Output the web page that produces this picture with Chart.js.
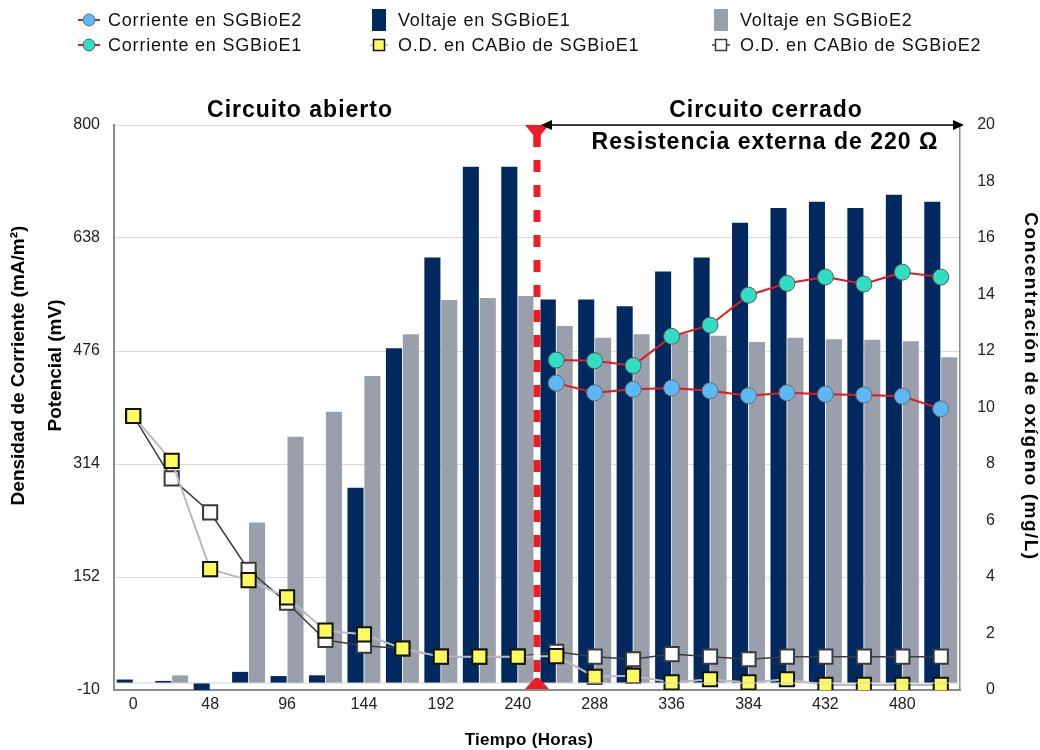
<!DOCTYPE html>
<html lang="es">
<head>
<meta charset="UTF-8">
<title>SGBioE - Voltaje, corriente y O.D.</title>
<script src="https://cdn.jsdelivr.net/npm/chart.js"></script>
<style>
  html, body { margin: 0; padding: 0; background: #fff; }
  #grafico { display: block; }
</style>
</head>
<body>
<canvas id="grafico" width="1040" height="750"></canvas>
<script>
// datos
const horas = [0, 24, 48, 72, 96, 120, 144, 168, 192, 216, 240, 264, 288, 312, 336, 360, 384, 408, 432, 456, 480, 504];
const voltajeE1 = [5, 3, -10, 16, 10, 11, 280, 480, 610, 740, 740, 550, 550, 540, 590, 610, 660, 681, 690, 681, 700, 690];
const voltajeE2 = [0, 11, 0, 230, 353, 389, 440, 500, 549, 552, 555, 512, 495, 500, 501, 498, 489, 495, 493, 492, 490, 467];
const corrienteE2 = [null, null, null, null, null, null, null, null, null, null, null, 430, 416, 421, 423, 419, 412, 416, 414, 413, 411, 393];
const corrienteE1 = [null, null, null, null, null, null, null, null, null, null, null, 463, 462, 455, 497, 513, 556, 573, 582, 572, 589, 582];
const odE1 = [9.7, 8.11, 4.28, 3.89, 3.28, 2.1, 1.97, 1.47, 1.18, 1.18, 1.18, 1.2, 0.47, 0.5, 0.27, 0.38, 0.27, 0.38, 0.18, 0.18, 0.18, 0.18];
const odE2 = [9.7, 7.49, 6.29, 4.25, 3.09, 1.77, 1.57, 1.47, 1.18, 1.18, 1.18, 1.35, 1.18, 1.09, 1.27, 1.18, 1.09, 1.18, 1.18, 1.18, 1.18, 1.18];
const ticksIzq = [-10, 152, 314, 476, 638, 800];
const ticksDer = [0, 2, 4, 6, 8, 10, 12, 14, 16, 18, 20];

const FUENTE = "'Liberation Sans', Arial, Helvetica, sans-serif";
Chart.defaults.font.family = FUENTE;
Chart.defaults.color = '#222';

const rojo = '#e8161e';

// leyenda en tres columnas, dibujada a mano
const leyenda = [
  { ds: 2, x: 89, y: 20 },
  { ds: 3, x: 89, y: 45 },
  { ds: 0, x: 379, y: 20 },
  { ds: 4, x: 379, y: 45 },
  { ds: 1, x: 721, y: 20 },
  { ds: 5, x: 721, y: 45 }
];

function texto(ctx, t, x, y, font, spacing) {
  ctx.font = font;
  ctx.letterSpacing = spacing + 'px';
  ctx.fillText(t, x, y);
  ctx.letterSpacing = '0px';
}

const pluginLeyenda = {
  id: 'leyendaPropia',
  afterDraw(chart) {
    const ctx = chart.ctx;
    ctx.save();
    leyenda.forEach(item => {
      const d = chart.data.datasets[item.ds];
      if (d.type === 'bar') {
        ctx.fillStyle = d.backgroundColor;
        ctx.fillRect(item.x - 7, item.y - 11, 14, 22);
      } else if (d.pointStyle === 'circle') {
        ctx.strokeStyle = d.borderColor;
        ctx.lineWidth = 2;
        ctx.beginPath();
        ctx.moveTo(item.x - 11, item.y);
        ctx.lineTo(item.x + 11, item.y);
        ctx.stroke();
        ctx.beginPath();
        ctx.arc(item.x, item.y, 6, 0, Math.PI * 2);
        ctx.fillStyle = d.pointBackgroundColor;
        ctx.fill();
        ctx.lineWidth = 1;
        ctx.strokeStyle = d.pointBorderColor;
        ctx.stroke();
      } else {
        ctx.strokeStyle = d.borderColor;
        ctx.lineWidth = 1.5;
        ctx.beginPath();
        ctx.moveTo(item.x - 9, item.y);
        ctx.lineTo(item.x + 9, item.y);
        ctx.stroke();
        ctx.fillStyle = d.pointBackgroundColor;
        ctx.fillRect(item.x - 5.5, item.y - 5.5, 11, 11);
        ctx.lineWidth = 1.5;
        ctx.strokeStyle = d.pointBorderColor;
        ctx.strokeRect(item.x - 5.5, item.y - 5.5, 11, 11);
      }
      ctx.fillStyle = '#111';
      ctx.textAlign = 'left';
      ctx.textBaseline = 'middle';
      texto(ctx, d.label, item.x + 19, item.y + 1, '18px ' + FUENTE, 0.8);
    });
    ctx.restore();
  }
};

// linea de cambio de circuito, flecha y textos
const pluginAnotaciones = {
  id: 'anotaciones',
  afterDatasetsDraw(chart) {
    const ctx = chart.ctx;
    const xs = chart.scales.x;
    const ys = chart.scales.y;
    const area = chart.chartArea;
    const iCambio = corrienteE1.findIndex(v => v !== null);
    const xc = (xs.getPixelForValue(iCambio - 1) + xs.getPixelForValue(iCambio)) / 2;

    ctx.save();
    // linea base en cero
    ctx.strokeStyle = '#d4d4d4';
    ctx.lineWidth = 1;
    ctx.beginPath();
    ctx.moveTo(area.left, ys.getPixelForValue(0));
    ctx.lineTo(area.right, ys.getPixelForValue(0));
    ctx.stroke();

    // linea discontinua roja con fondo blanco
    ctx.lineWidth = 7;
    ctx.strokeStyle = '#fff';
    ctx.beginPath();
    ctx.moveTo(xc, area.top + 20);
    ctx.lineTo(xc, area.bottom - 4);
    ctx.stroke();
    ctx.strokeStyle = '#ee1c25';
    ctx.setLineDash([12, 13]);
    ctx.beginPath();
    ctx.moveTo(xc, area.top + 10);
    ctx.lineTo(xc, area.bottom - 4);
    ctx.stroke();
    ctx.setLineDash([]);
    ctx.fillStyle = '#ee1c25';
    ctx.fillRect(xc - 3.5, area.top, 7, 22);
    ctx.beginPath();
    ctx.moveTo(xc - 12, area.top);
    ctx.lineTo(xc + 12, area.top);
    ctx.lineTo(xc + 2, area.top + 12);
    ctx.lineTo(xc - 2, area.top + 12);
    ctx.closePath();
    ctx.fill();
    ctx.beginPath();
    ctx.moveTo(xc - 12, area.bottom - 1);
    ctx.lineTo(xc + 12, area.bottom - 1);
    ctx.lineTo(xc + 2, area.bottom - 12);
    ctx.lineTo(xc - 2, area.bottom - 12);
    ctx.closePath();
    ctx.fill();

    // flecha doble
    const ya = area.top;
    const x1 = xc + 4, x2 = area.right + 4;
    ctx.strokeStyle = '#000';
    ctx.lineWidth = 1.5;
    ctx.beginPath();
    ctx.moveTo(x1 + 6, ya);
    ctx.lineTo(x2 - 6, ya);
    ctx.stroke();
    ctx.fillStyle = '#000';
    ctx.beginPath();
    ctx.moveTo(x1, ya);
    ctx.lineTo(x1 + 11, ya - 5);
    ctx.lineTo(x1 + 11, ya + 5);
    ctx.closePath();
    ctx.fill();
    ctx.beginPath();
    ctx.moveTo(x2, ya);
    ctx.lineTo(x2 - 11, ya - 5);
    ctx.lineTo(x2 - 11, ya + 5);
    ctx.closePath();
    ctx.fill();
    ctx.restore();
  },
  afterDraw(chart) {
    const ctx = chart.ctx;
    const area = chart.chartArea;
    ctx.save();
    ctx.fillStyle = '#000';
    ctx.textAlign = 'center';
    ctx.textBaseline = 'middle';
    const fTitulo = 'bold 23px ' + FUENTE;
    texto(ctx, 'Circuito abierto', 300, 111, fTitulo, 1);
    texto(ctx, 'Circuito cerrado', 766, 111, fTitulo, 1);
    texto(ctx, 'Resistencia externa de 220 Ω', 765, 143, fTitulo, 1);

    // titulo del eje x
    texto(ctx, 'Tiempo (Horas)', 529, 740, 'bold 17px ' + FUENTE, 0.3);

    // titulos verticales
    const fEje = 'bold 19px ' + FUENTE;
    const yMedio = (area.top + area.bottom) / 2 - 42;
    const vertical = (t, x, y, ang, sp) => {
      ctx.save();
      ctx.translate(x, y);
      ctx.rotate(ang);
      texto(ctx, t, 0, 0, fEje, sp);
      ctx.restore();
    };
    vertical('Densidad de Corriente (mA/m²)', 19, yMedio, -Math.PI / 2, 0);
    vertical('Potencial (mV)', 56, yMedio, -Math.PI / 2, 0);
    vertical('Concentración de oxígeno (mg/L)', 1030, yMedio + 21, Math.PI / 2, 1.5);
    ctx.restore();
  }
};

const ctx = document.getElementById('grafico').getContext('2d');
const grafico = new Chart(ctx, {
  data: {
    labels: horas.map(String),
    datasets: [
      { type: 'bar', label: 'Voltaje en SGBioE1', data: voltajeE1, backgroundColor: '#00295f', yAxisID: 'y', order: 10, categoryPercentage: 0.88, barPercentage: 0.95 },
      { type: 'bar', label: 'Voltaje en SGBioE2', data: voltajeE2, backgroundColor: '#9aa0ab', yAxisID: 'y', order: 10, categoryPercentage: 0.88, barPercentage: 0.95 },
      { type: 'line', label: 'Corriente en SGBioE2', data: corrienteE2, yAxisID: 'y', order: 1,
        borderColor: rojo, borderWidth: 2, pointStyle: 'circle', pointRadius: 8,
        pointBackgroundColor: '#5cb9f6', pointBorderColor: '#6b6b6b', pointBorderWidth: 1 },
      { type: 'line', label: 'Corriente en SGBioE1', data: corrienteE1, yAxisID: 'y', order: 1,
        borderColor: rojo, borderWidth: 2, pointStyle: 'circle', pointRadius: 8,
        pointBackgroundColor: '#2fdfc4', pointBorderColor: '#5a5a5a', pointBorderWidth: 1 },
      { type: 'line', label: 'O.D. en CABio de SGBioE1', data: odE1, yAxisID: 'yDer', order: 2,
        borderColor: '#b9b9c6', borderWidth: 2, pointStyle: 'rect', pointRadius: 10,
        pointBackgroundColor: '#fbfb5e', pointBorderColor: '#111', pointBorderWidth: 2 },
      { type: 'line', label: 'O.D. en CABio de SGBioE2', data: odE2, yAxisID: 'yDer', order: 3,
        borderColor: '#3c3c3c', borderWidth: 1.5, pointStyle: 'rect', pointRadius: 10,
        pointBackgroundColor: '#fff', pointBorderColor: '#3a3a3a', pointBorderWidth: 2 }
    ]
  },
  options: {
    responsive: false,
    animation: false,
    layout: { padding: { top: 125, left: 0, right: 45, bottom: 0 } },
    plugins: {
      legend: { display: false },
      tooltip: { enabled: false }
    },
    scales: {
      x: {
        type: 'category',
        offset: true,
        grid: { display: false, drawTicks: false },
        border: { color: '#8c8c8c', width: 2 },
        ticks: {
          autoSkip: false, maxRotation: 0, padding: 5,
          font: { size: 16 }, color: '#222',
          callback: function (v, i) { return i % 2 === 0 ? this.getLabelForValue(v) : ''; }
        },
        afterFit(s) { s.height = 60; }
      },
      y: {
        position: 'left',
        min: -10, max: 800,
        afterBuildTicks(s) { s.ticks = ticksIzq.map(v => ({ value: v })); },
        grid: { color: '#dadada', drawTicks: false },
        border: { color: '#8c8c8c', width: 2 },
        ticks: { padding: 14, font: { size: 16 }, color: '#222' },
        afterFit(s) { s.width = 114; }
      },
      yDer: {
        position: 'right',
        min: 0, max: 20,
        afterBuildTicks(s) { s.ticks = ticksDer.map(v => ({ value: v })); },
        grid: { display: false, drawTicks: false },
        border: { color: '#8c8c8c', width: 1.5 },
        ticks: { padding: 15, crossAlign: 'far', font: { size: 16 }, color: '#222' },
        afterFit(s) { s.width = 35; }
      }
    }
  },
  plugins: [pluginLeyenda, pluginAnotaciones]
});
</script>
</body>
</html>
